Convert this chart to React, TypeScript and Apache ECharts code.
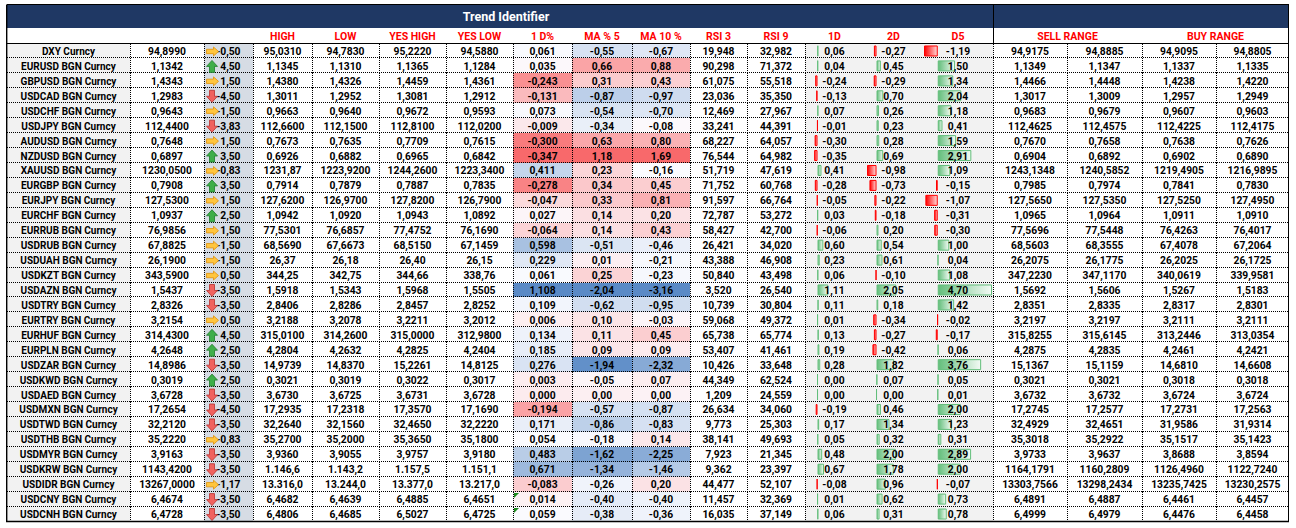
import { useEffect, useRef } from 'react';
import * as echarts from 'echarts';

// ---------------- DATA ----------------
const NAMES = [
  'DXY Curncy', 'EURUSD BGN Curncy', 'GBPUSD BGN Curncy', 'USDCAD BGN Curncy', 'USDCHF BGN Curncy',
  'USDJPY BGN Curncy', 'AUDUSD BGN Curncy', 'NZDUSD BGN Curncy', 'XAUUSD BGN Curncy', 'EURGBP BGN Curncy',
  'EURJPY BGN Curncy', 'EURCHF BGN Curncy', 'EURRUB BGN Curncy', 'USDRUB BGN Curncy', 'USDUAH BGN Curncy',
  'USDKZT BGN Curncy', 'USDAZN BGN Curncy', 'USDTRY BGN Curncy', 'EURTRY BGN Curncy', 'EURHUF BGN Curncy',
  'EURPLN BGN Curncy', 'USDZAR BGN Curncy', 'USDKWD BGN Curncy', 'USDAED BGN Curncy', 'USDMXN BGN Curncy',
  'USDTWD BGN Curncy', 'USDTHB BGN Curncy', 'USDMYR BGN Curncy', 'USDKRW BGN Curncy', 'USDIDR BGN Curncy',
  'USDCNY BGN Curncy', 'USDCNH BGN Curncy',
];
const LAST = [94.899, 1.1342, 1.4343, 1.2983, 0.9643, 112.44, 0.7648, 0.6897, 1230.05, 0.7908, 127.53, 1.0937, 76.9856, 67.8825, 26.19, 343.59, 1.5437, 2.8326, 3.2154, 314.43, 4.2648, 14.8986, 0.3019, 3.6728, 17.2654, 32.212, 35.222, 3.9163, 1143.42, 13267.0, 6.4674, 6.4728];
const CHANGE = [-0.5, 4.5, 1.5, -4.5, -1.5, -3.83, 1.5, 3.5, -0.83, 3.5, 1.5, 2.5, 1.5, -1.5, -1.5, 0.5, -3.5, -3.5, 0.5, 4.5, 2.5, -3.5, 2.5, -3.5, -4.5, -3.5, -0.83, -3.5, -3.5, -1.17, -3.5, -3.5];
const HIGH = [95.031, 1.1345, 1.438, 1.3011, 0.9663, 112.66, 0.7673, 0.6926, 1231.87, 0.7914, 127.62, 1.0942, 77.5301, 68.569, 26.37, 344.25, 1.5918, 2.8406, 3.2188, 315.01, 4.2804, 14.9739, 0.3021, 3.673, 17.2935, 32.264, 35.27, 3.936, 1146.6, 13316.0, 6.4682, 6.4806];
const LOW = [94.783, 1.131, 1.4326, 1.2952, 0.964, 112.15, 0.7635, 0.6882, 1223.92, 0.7879, 126.97, 1.092, 76.6857, 67.6673, 26.18, 342.75, 1.5343, 2.8286, 3.2078, 314.26, 4.2632, 14.837, 0.3019, 3.6725, 17.2318, 32.156, 35.2, 3.9055, 1143.2, 13244.0, 6.4639, 6.4685];
const YES_HIGH = [95.222, 1.1365, 1.4459, 1.3081, 0.9672, 112.81, 0.7709, 0.6965, 1244.26, 0.7887, 127.82, 1.0943, 77.4752, 68.515, 26.4, 344.66, 1.5968, 2.8457, 3.2211, 315.0, 4.2825, 15.2261, 0.3022, 3.6731, 17.357, 32.465, 35.365, 3.9757, 1157.5, 13377.0, 6.4885, 6.5027];
const YES_LOW = [94.588, 1.1284, 1.4361, 1.2912, 0.9593, 112.02, 0.7615, 0.6842, 1223.34, 0.7835, 126.79, 1.0892, 76.169, 67.1459, 26.15, 338.76, 1.5505, 2.8252, 3.2012, 312.98, 4.2404, 14.8125, 0.3017, 3.6728, 17.169, 32.222, 35.18, 3.918, 1151.1, 13217.0, 6.4651, 6.4725];
const D1_PCT = [0.061, 0.035, -0.243, -0.131, 0.073, -0.009, -0.3, -0.347, 0.411, -0.278, -0.047, 0.027, -0.064, 0.598, 0.229, 0.061, 1.108, 0.109, 0.006, 0.134, 0.185, 0.276, 0.003, 0.0, -0.194, 0.171, 0.054, 0.483, 0.671, -0.083, 0.014, 0.059];
const MA5 = [-0.55, 0.66, 0.31, -0.87, -0.54, -0.34, 0.63, 1.18, 0.23, 0.34, 0.33, 0.14, 0.14, -0.51, 0.01, 0.25, -2.04, -0.62, 0.1, 0.11, 0.09, -1.94, -0.05, 0.0, -0.57, -0.86, -0.18, -1.62, -1.34, -0.26, -0.4, -0.38];
const MA10 = [-0.67, 0.88, 0.43, -0.97, -0.7, -0.08, 0.8, 1.69, -0.16, 0.45, 0.81, 0.2, 0.43, -0.46, -0.21, -0.23, -3.16, -0.95, -0.03, 0.45, 0.09, -2.32, 0.07, 0.0, -0.87, -0.83, 0.14, -2.25, -1.46, 0.2, -0.4, -0.36];
const RSI3 = [19.948, 90.298, 61.075, 23.036, 12.469, 33.241, 68.227, 76.544, 51.719, 71.752, 91.597, 72.787, 58.427, 26.421, 43.388, 50.84, 3.52, 10.739, 59.068, 65.738, 53.407, 10.426, 44.349, 1.209, 26.634, 9.773, 38.141, 7.923, 9.362, 44.477, 11.457, 16.035];
const RSI9 = [32.982, 71.372, 55.518, 35.35, 27.967, 44.391, 64.057, 64.982, 47.619, 60.768, 66.764, 53.272, 42.7, 34.02, 46.908, 43.498, 26.54, 30.804, 49.372, 65.774, 41.461, 33.648, 62.524, 24.559, 34.06, 25.303, 49.693, 21.345, 23.397, 52.107, 32.369, 37.149];
const BAR_1D = [0.06, 0.04, -0.24, -0.13, 0.07, -0.01, -0.3, -0.35, 0.41, -0.28, -0.05, 0.03, -0.06, 0.6, 0.23, 0.06, 1.11, 0.11, 0.01, 0.13, 0.19, 0.28, 0.0, 0.0, -0.19, 0.17, 0.05, 0.48, 0.67, -0.08, 0.01, 0.06];
const BAR_2D = [-0.27, 0.45, -0.29, 0.7, 0.26, 0.23, 0.28, 0.69, -0.98, -0.73, -0.22, -0.18, 0.2, 0.54, 0.61, -0.1, 2.05, 0.18, -0.34, -0.27, -0.42, 1.82, 0.07, 0.0, 0.46, 1.34, 0.32, 2.0, 1.78, 0.96, 0.62, 0.31];
const BAR_D5 = [-1.19, 1.5, 1.34, 2.04, 1.18, 0.41, 1.59, 2.91, 1.09, -0.15, -1.07, -0.31, -0.3, 1.0, 0.04, 1.08, 4.7, 1.42, -0.02, -0.17, 0.06, 3.76, 0.05, 0.01, 2.0, 1.23, 0.31, 2.89, 2.0, -0.07, 0.73, 0.78];
const SELL1 = [94.9175, 1.1349, 1.4466, 1.3017, 0.9683, 112.4625, 0.767, 0.6904, 1243.1348, 0.7985, 127.565, 1.0965, 77.5696, 68.5603, 26.2075, 347.223, 1.5692, 2.8351, 3.2197, 315.8255, 4.2875, 15.1367, 0.3021, 3.6732, 17.2745, 32.4929, 35.3018, 3.9733, 1164.1791, 13303.7566, 6.4891, 6.4999];
const SELL2 = [94.8885, 1.1347, 1.4448, 1.3009, 0.9679, 112.4575, 0.7658, 0.6892, 1240.5852, 0.7974, 127.535, 1.0964, 77.5448, 68.3555, 26.1775, 347.117, 1.5606, 2.8335, 3.2197, 315.6145, 4.2835, 15.1159, 0.3021, 3.6732, 17.2577, 32.4651, 35.2922, 3.9637, 1160.2809, 13298.2434, 6.4887, 6.4979];
const BUY1 = [94.9095, 1.1337, 1.4238, 1.2957, 0.9607, 112.4225, 0.7638, 0.6902, 1219.4905, 0.7841, 127.525, 1.0911, 76.4263, 67.4078, 26.2025, 340.0619, 1.5267, 2.8317, 3.2111, 313.2446, 4.2461, 14.681, 0.3018, 3.6724, 17.2731, 31.9586, 35.1517, 3.8688, 1126.496, 13235.7425, 6.4461, 6.4476];
const BUY2 = [94.8805, 1.1335, 1.422, 1.2949, 0.9603, 112.4175, 0.7626, 0.689, 1216.9895, 0.783, 127.495, 1.091, 76.4017, 67.2064, 26.1725, 339.9581, 1.5183, 2.8301, 3.2111, 313.0354, 4.2421, 14.6608, 0.3018, 3.6724, 17.2563, 31.9314, 35.1423, 3.8594, 1122.724, 13230.2575, 6.4457, 6.4458];

// number formats per row ("k1" = thousands separator, 1 decimal)
const FMT_HIGH = ['4', '4', '4', '4', '4', '4', '4', '4', '2', '4', '4', '4', '4', '4', '2', '2', '4', '4', '4', '4', '4', '4', '4', '4', '4', '4', '4', '4', 'k1', 'k1', '4', '4'];
const FMT_RANGE = ['4', '4', '4', '4', '4', '4', '4', '4', '4', '4', '4', '4', '4', '4', '2', '2', '4', '4', '4', '4', '4', '4', '4', '4', '4', '4', '4', '4', 'k1', 'k1', '4', '4'];
const STORED_AS_TEXT = ['USDCNY BGN Curncy', 'USDCNH BGN Curncy'];

const TITLE = 'Trend Identifier';
const COLUMN_LABELS = [
  { text: 'HIGH', from: 3, to: 3 }, { text: 'LOW', from: 4, to: 4 }, { text: 'YES HIGH', from: 5, to: 5 },
  { text: 'YES LOW', from: 6, to: 6 }, { text: '1 D%', from: 7, to: 7 }, { text: 'MA % 5', from: 8, to: 8 },
  { text: 'MA 10 %', from: 9, to: 9 }, { text: 'RSI 3', from: 10, to: 10 }, { text: 'RSI 9', from: 11, to: 11 },
  { text: '1D', from: 12, to: 12 }, { text: '2D', from: 13, to: 13 }, { text: 'D5', from: 14, to: 14 },
  { text: 'SELL RANGE', from: 15, to: 16 }, { text: 'BUY RANGE', from: 17, to: 18 },
];

// ---------------- LAYOUT ----------------
const EDGES = [7, 130, 204, 253, 312, 379, 446, 513, 572, 632, 690, 747, 805, 864, 923, 993, 1067, 1142, 1216, 1289];
const TOP = 4.5;
const BAND_BOTTOM = 28;
const BODY_TOP = 43.5;
const BODY_H = 478;
const FONT = 'Roboto';
const NAVY = '#1F3864';

function fmt(v: number, code: string): string {
  const k = code[0] === 'k';
  const d = parseInt(k ? code.slice(1) : code, 10);
  const s = Math.abs(v).toFixed(d);
  let [i, f] = s.split('.');
  if (k) i = i.replace(/\B(?=(\d{3})+(?!\d))/g, '.');
  return (v < 0 ? '-' : '') + i + (f ? ',' + f : '');
}

function hex(c: string) { return [1, 3, 5].map((o) => parseInt(c.slice(o, o + 2), 16)); }
function mix(a: string, b: string, t: number) {
  const A = hex(a), B = hex(b);
  return 'rgb(' + A.map((x, i) => Math.round(x + (B[i] - x) * t)).join(',') + ')';
}
function median(arr: number[]) {
  const s = [...arr].sort((a, b) => a - b);
  const n = s.length;
  return n % 2 ? s[(n - 1) / 2] : (s[n / 2 - 1] + s[n / 2]) / 2;
}
const RED = '#F8696B', WHITE = '#FCFCFF', BLUE = '#5A8AC6';
function scale3(arr: number[], lowC: string, highC: string) {
  const mn = Math.min(...arr), mx = Math.max(...arr), md = median(arr);
  return (v: number) => (v <= md
    ? mix(lowC, WHITE, md === mn ? 1 : (v - mn) / (md - mn))
    : mix(WHITE, highC, mx === md ? 1 : (v - md) / (mx - md)));
}
const colD1 = scale3(D1_PCT, RED, BLUE);
const colMA5 = scale3(MA5, BLUE, RED);
const colMA10 = scale3(MA10, BLUE, RED);

type Col = { text: (r: number) => string; bg: (r: number) => string; align?: string };
const white = () => '#FFFFFF';
const gray = () => '#F2F2F2';
const COLS: Col[] = [
  { text: (r) => NAMES[r], bg: gray },
  { text: (r) => fmt(LAST[r], '4'), bg: white },
  { text: (r) => fmt(CHANGE[r], '2'), bg: () => '#D6DCE4', align: 'right' },
  { text: (r) => fmt(HIGH[r], FMT_HIGH[r]), bg: white },
  { text: (r) => fmt(LOW[r], FMT_RANGE[r]), bg: white },
  { text: (r) => fmt(YES_HIGH[r], FMT_RANGE[r]), bg: white },
  { text: (r) => fmt(YES_LOW[r], FMT_RANGE[r]), bg: white },
  { text: (r) => fmt(D1_PCT[r], '3'), bg: (r) => colD1(D1_PCT[r]) },
  { text: (r) => fmt(MA5[r], '2'), bg: (r) => colMA5(MA5[r]) },
  { text: (r) => fmt(MA10[r], '2'), bg: (r) => colMA10(MA10[r]) },
  { text: (r) => fmt(RSI3[r], '3'), bg: white },
  { text: (r) => fmt(RSI9[r], '3'), bg: white },
  { text: (r) => fmt(BAR_1D[r], '2'), bg: gray },
  { text: (r) => fmt(BAR_2D[r], '2'), bg: gray },
  { text: (r) => fmt(BAR_D5[r], '2'), bg: gray },
  { text: (r) => fmt(SELL1[r], '4'), bg: white },
  { text: (r) => fmt(SELL2[r], '4'), bg: white },
  { text: (r) => fmt(BUY1[r], '4'), bg: white },
  { text: (r) => fmt(BUY2[r], '4'), bg: white },
];
const DOTTED_V = [1, 2, 3, 4, 5, 6, 7, 8, 9, 10, 11, 12, 15, 16, 17, 18];
const BAR_SERIES = [BAR_1D, BAR_2D, BAR_D5];
const BAR_COLS = [12, 13, 14];
const BAR_MIN = Math.min(...BAR_1D, ...BAR_2D, ...BAR_D5);
const BAR_MAX = Math.max(...BAR_1D, ...BAR_2D, ...BAR_D5);

function textStyle(text: string, x: number, y: number, align: string, font: string, fill: string) {
  return { text, x, y, fill, font, align, verticalAlign: 'middle', textAlign: align, textVerticalAlign: 'middle' };
}

function arrowPoints(kind: string, x: number, y: number) {
  if (kind === 'up') return [[x + 5.5, y - 6], [x + 11, y], [x + 8, y], [x + 8, y + 6], [x + 3, y + 6], [x + 3, y], [x, y]];
  if (kind === 'down') return [[x + 5.5, y + 6], [x + 11, y], [x + 8, y], [x + 8, y - 6], [x + 3, y - 6], [x + 3, y], [x, y]];
  return [[x + 12, y], [x + 7, y - 4.5], [x + 7, y - 2.2], [x, y - 2.2], [x, y + 2.2], [x + 7, y + 2.2], [x + 7, y + 4.5]];
}

export default function App() {
  const ref = useRef<HTMLDivElement>(null);
  useEffect(() => {
    if (!ref.current) return;
    const chart = echarts.init(ref.current, undefined, { renderer: 'svg' });
    const rows = NAMES.map((_, i) => [EDGES[0], i]);
    const W = EDGES[EDGES.length - 1] - EDGES[0];

    const grids: any[] = [{ left: EDGES[0], top: BODY_TOP, width: W, height: BODY_H }];
    const xAxes: any[] = [{ gridIndex: 0, type: 'value', min: EDGES[0], max: EDGES[EDGES.length - 1], show: false }];
    const yAxes: any[] = [{ gridIndex: 0, type: 'category', data: NAMES, inverse: true, show: false }];
    BAR_COLS.forEach((c, k) => {
      grids.push({ left: EDGES[c] + 1, top: BODY_TOP, width: EDGES[c + 1] - EDGES[c] - 2, height: BODY_H });
      xAxes.push({ gridIndex: k + 1, type: 'value', min: BAR_MIN, max: BAR_MAX, show: false });
      yAxes.push({
        gridIndex: k + 1, type: 'category', data: NAMES, inverse: true,
        axisLine: { show: true, onZero: true, lineStyle: { color: '#000', width: 1, type: [2, 2] } },
        axisTick: { show: false }, axisLabel: { show: false }, splitLine: { show: false },
      });
    });

    const greenGrad = new echarts.graphic.LinearGradient(0, 0, 1, 0, [
      { offset: 0, color: '#63BE7B' }, { offset: 1, color: '#F3FAF5' }]);
    const redGrad = new echarts.graphic.LinearGradient(0, 0, 1, 0, [
      { offset: 0, color: '#FF0000' }, { offset: 1, color: '#FFDADA' }]);

    const barSeries = BAR_SERIES.map((arr, k) => ({
      type: 'bar', xAxisIndex: k + 1, yAxisIndex: k + 1, barWidth: 11, z: 3, silent: true,
      data: arr.map((v) => ({
        value: v,
        itemStyle: v >= 0
          ? { color: greenGrad, borderColor: '#63BE7B', borderWidth: 1 }
          : { color: redGrad, borderColor: '#FF0000', borderWidth: 1 },
      })),
    }));

    const bgSeries = {
      type: 'custom', xAxisIndex: 0, yAxisIndex: 0, z: 1, silent: true, data: rows, encode: { x: 0, y: 1 },
      renderItem: (_p: any, api: any) => {
        const r = api.value(1);
        const cy = api.coord([EDGES[0], r])[1];
        const h = api.size([0, 1])[1];
        const yT = Math.round(cy - h / 2), yB = Math.round(cy + h / 2);
        const X = (e: number) => api.coord([e, r])[0];
        const ch: any[] = [];
        COLS.forEach((c, i) => {
          const x0 = Math.round(X(EDGES[i])), x1 = Math.round(X(EDGES[i + 1]));
          ch.push({ type: 'rect', shape: { x: x0, y: yT, width: x1 - x0, height: yB - yT }, style: { fill: c.bg(r) } });
        });
        if (r < NAMES.length - 1) {
          ch.push({
            type: 'line', shape: { x1: X(EDGES[0]), y1: yB - 0.5, x2: X(EDGES[EDGES.length - 1]), y2: yB - 0.5 },
            style: { stroke: '#000', lineWidth: 1, lineDash: [1, 1] },
          });
        }
        DOTTED_V.forEach((e) => {
          const x = Math.round(X(EDGES[e])) + 0.5;
          ch.push({ type: 'line', shape: { x1: x, y1: yT, x2: x, y2: yB }, style: { stroke: '#000', lineWidth: 1, lineDash: [1, 1] } });
        });
        return { type: 'group', children: ch };
      },
    };

    const textSeries = {
      type: 'custom', xAxisIndex: 0, yAxisIndex: 0, z: 5, silent: true, data: rows, encode: { x: 0, y: 1 },
      renderItem: (_p: any, api: any) => {
        const r = api.value(1);
        const cy = api.coord([EDGES[0], r])[1];
        const h = api.size([0, 1])[1];
        const yT = Math.round(cy - h / 2);
        const X = (e: number) => api.coord([e, r])[0];
        const ch: any[] = [];
        COLS.forEach((c, i) => {
          const x0 = X(EDGES[i]), x1 = X(EDGES[i + 1]);
          const right = c.align === 'right';
          const font = i === 0 ? `bold 10px ${FONT}` : `bold 10.3px ${FONT}`;
          ch.push({ type: 'text', style: textStyle(c.text(r), right ? x1 - 12.5 : (x0 + x1) / 2, cy + 0.5, right ? 'right' : 'center', font, '#000') });
        });
        const v = CHANGE[r];
        const kind = v >= 2 ? 'up' : v <= -2 ? 'down' : 'right';
        const fill = kind === 'up' ? '#3FAE49' : kind === 'down' ? '#F0625F' : '#FFC53D';
        const stroke = kind === 'up' ? '#1E7B2B' : kind === 'down' ? '#B8302E' : '#E0900A';
        ch.push({
          type: 'polygon', shape: { points: arrowPoints(kind, X(EDGES[2]) + 2.5, cy + 0.5) },
          style: { fill, stroke, lineWidth: 0.8 },
        });
        if (STORED_AS_TEXT.includes(NAMES[r])) {
          const x = Math.round(X(EDGES[7])) + 1;
          ch.push({ type: 'polygon', shape: { points: [[x, yT + 1], [x + 5, yT + 1], [x, yT + 6]] }, style: { fill: '#1D8A1D' } });
        }
        return { type: 'group', children: ch };
      },
    };

    const right = EDGES[EDGES.length - 1];
    const bodyBottom = BODY_TOP + BODY_H;
    const graphic: any[] = [
      { type: 'rect', shape: { x: EDGES[0], y: TOP, width: right - EDGES[0], height: BAND_BOTTOM - TOP }, style: { fill: NAVY }, z: 10 },
      { type: 'rect', shape: { x: EDGES[0], y: BAND_BOTTOM, width: right - EDGES[0], height: BODY_TOP - BAND_BOTTOM }, style: { fill: '#FFFFFF' }, z: 10 },
      { type: 'text', style: textStyle(TITLE, 506, 16.5, 'center', `bold 12.5px ${FONT}`, '#FFFFFF'), z: 12 },
      { type: 'line', shape: { x1: EDGES[0], y1: TOP, x2: right, y2: TOP }, style: { stroke: '#000', lineWidth: 1 }, z: 12 },
      { type: 'line', shape: { x1: EDGES[0], y1: BODY_TOP, x2: right, y2: BODY_TOP }, style: { stroke: '#000', lineWidth: 1 }, z: 12 },
      { type: 'line', shape: { x1: EDGES[15] + 0.5, y1: TOP, x2: EDGES[15] + 0.5, y2: BODY_TOP }, style: { stroke: '#000', lineWidth: 1 }, z: 12 },
      { type: 'line', shape: { x1: EDGES[0] - 0.3, y1: TOP, x2: EDGES[0] - 0.3, y2: bodyBottom }, style: { stroke: '#000', lineWidth: 1.4 }, z: 12 },
      { type: 'line', shape: { x1: right - 0.5, y1: TOP, x2: right - 0.5, y2: bodyBottom }, style: { stroke: '#000', lineWidth: 1 }, z: 12 },
      { type: 'line', shape: { x1: EDGES[0] - 1, y1: bodyBottom, x2: right, y2: bodyBottom }, style: { stroke: '#000', lineWidth: 1.6 }, z: 12 },
    ];
    COLUMN_LABELS.forEach((l) => {
      graphic.push({
        type: 'text', z: 12,
        style: textStyle(l.text, (EDGES[l.from] + EDGES[l.to + 1]) / 2, 36, 'center', `bold 10.5px ${FONT}`, '#FF0000'),
      });
    });

    chart.setOption({
      animation: false,
      grid: grids,
      xAxis: xAxes,
      yAxis: yAxes,
      graphic,
      series: [bgSeries, ...barSeries, textSeries],
    } as any);
    return () => chart.dispose();
  }, []);
  return <div ref={ref} style={{ position: 'absolute', left: 0, top: 0, width: 1296, height: 528, background: '#fff' }} />;
}
